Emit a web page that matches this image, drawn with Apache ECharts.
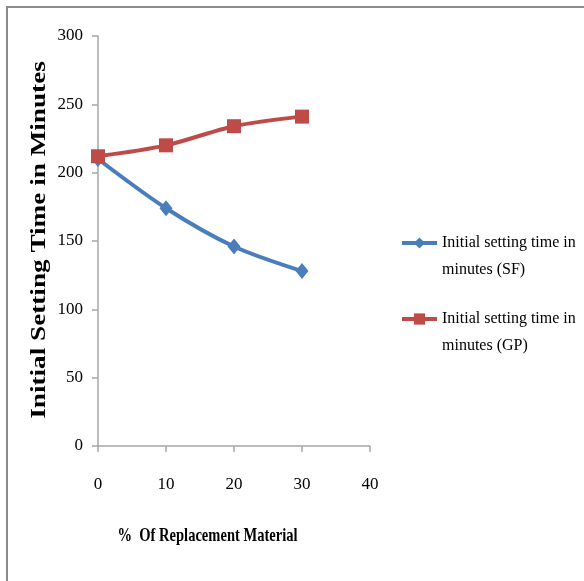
<!DOCTYPE html>
<html>
<head>
<meta charset="utf-8">
<script src="https://cdn.jsdelivr.net/npm/echarts@6/dist/echarts.min.js"></script>
<style>
html,body{margin:0;padding:0;background:#fff;}
#chart{width:584px;height:581px;}
</style>
</head>
<body>
<div id="chart"></div>
<script>
var replacementPct = [0, 10, 20, 30];
var sfValues = [210, 174, 146, 128];
var gpValues = [212, 220, 234, 241];
var seriesNames = ['Initial setting time in\nminutes (SF)', 'Initial setting time in\nminutes (GP)'];
var xTitle = '%  Of Replacement Material';
var yTitle = 'Initial Setting Time in Minutes';

function pairs(xs, ys) { return xs.map(function (x, i) { return [x, ys[i]]; }); }

var chart = echarts.init(document.getElementById('chart'), null, {renderer: 'canvas'});
var serif = '"Liberation Serif", "Times New Roman", serif';

function legendAt(name, top) {
  return {
    orient: 'vertical', left: 400, top: top, padding: 0,
    itemWidth: 35, itemHeight: 14, itemGap: 0,
    lineStyle: {width: 4},
    formatter: function (n) { return '\n' + n; },
    textStyle: {fontFamily: serif, fontSize: 16, color: '#000', lineHeight: 27},
    data: [name]
  };
}

chart.setOption({
  animation: false,
  backgroundColor: '#ffffff',
  graphic: [{
    type: 'rect', shape: {x: 7, y: 7, width: 700, height: 700}, silent: true,
    style: {fill: 'none', stroke: '#8c8c8c', lineWidth: 2}
  }, {
    type: 'text', x: 207.5, y: 536, silent: true, scaleX: 0.765,
    style: {text: xTitle, font: 'bold 19px ' + serif, fill: '#000', align: 'center', verticalAlign: 'middle'}
  }, {
    type: 'text', x: 40, y: 240, rotation: Math.PI / 2, scaleX: 1.36, silent: true,
    style: {text: yTitle, font: 'bold 20px ' + serif, fill: '#000', align: 'center', verticalAlign: 'middle'}
  }],
  grid: {left: 98, right: 214, top: 36, bottom: 135},
  legend: [legendAt(seriesNames[0], 202.5), legendAt(seriesNames[1], 278.5)],
  xAxis: {
    type: 'value', min: 0, max: 40, interval: 10,
    axisLine: {show: true, lineStyle: {color: '#a6a6a6', width: 1.5}},
    axisTick: {show: true, length: 6, lineStyle: {color: '#a6a6a6', width: 1.5}},
    axisLabel: {fontFamily: serif, fontSize: 17, color: '#000', margin: 30},
    splitLine: {show: false}
  },
  yAxis: {
    type: 'value', min: 0, max: 300, interval: 50,
    axisLine: {show: true, lineStyle: {color: '#a6a6a6', width: 1.5}},
    axisTick: {show: true, length: 6, lineStyle: {color: '#a6a6a6', width: 1.5}},
    axisLabel: {fontFamily: serif, fontSize: 17, color: '#000', margin: 15},
    splitLine: {show: false}
  },
  series: [{
    name: seriesNames[0], type: 'line', data: pairs(replacementPct, sfValues),
    smooth: 0.3, symbol: 'diamond', symbolSize: [13, 16],
    lineStyle: {color: '#4a7ebb', width: 4},
    itemStyle: {color: '#4a7ebb'}
  }, {
    name: seriesNames[1], type: 'line', data: pairs(replacementPct, gpValues),
    smooth: 0.3, symbol: 'rect', symbolSize: 14,
    lineStyle: {color: '#be4b48', width: 4},
    itemStyle: {color: '#be4b48'}
  }]
});
</script>
</body>
</html>
